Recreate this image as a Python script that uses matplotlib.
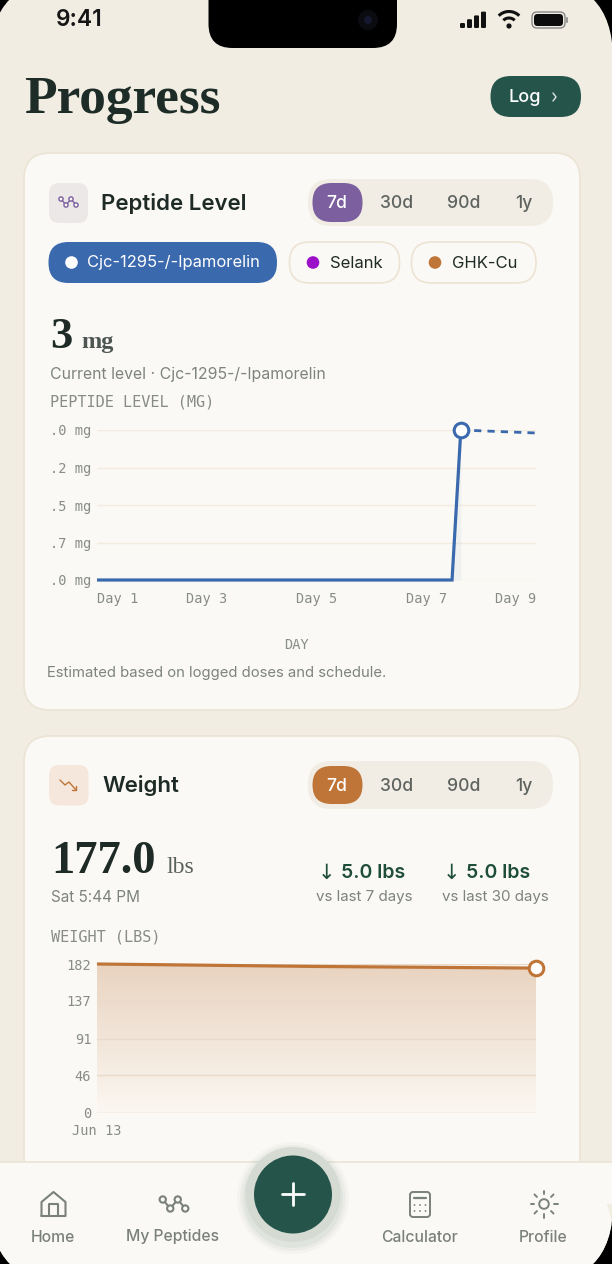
import numpy as np
import matplotlib
matplotlib.use('Agg')
import matplotlib.pyplot as plt
from matplotlib.patches import FancyBboxPatch, Circle

# chart data
level_days = [1, 3, 5, 7, 7.47, 7.63]
level_values = [0, 0, 0, 0, 0, 3.0]
projected_days = [7.63, 9]
projected_values = [3.0, 2.94]
level_ticks = [0, 0.75, 1.5, 2.25, 3.0]
level_tick_labels = ['.0 mg', '.7 mg', '.5 mg', '.2 mg', '.0 mg']
day_ticks = [1, 3, 5, 7, 9]
day_tick_labels = ['Day 1', 'Day 3', 'Day 5', 'Day 7', 'Day 9']

weight_days = [0, 3.5, 7]
weight_values = [182, 179, 177]
weight_ticks = [0, 46, 91, 137, 182]
date_ticks = [0]
date_tick_labels = ['Jun 13']

periods = ['7d', '30d', '90d', '1y']
period_x = [337, 397, 464, 524]
nav_labels = ['Home', 'My Peptides', 'Calculator', 'Profile']
nav_x = [53, 172, 419, 543]

BG = '#f1ede3'
CARD = '#fbf9f5'
EDGE = '#ebe4d5'
INK = '#1d2a26'
GREY = '#7d837f'
TICK = '#878c87'
GREEN = '#24544a'
BLUE = '#3a69ad'
ORANGE = '#bf7538'
PURPLE = '#7b5f9e'
SANS = 'Inter'
SERIF = 'Liberation Serif'
MONO = 'DejaVu Sans Mono'

W, H = 612, 1264
fig = plt.figure(figsize=(W / 100, H / 100), dpi=100, facecolor='black')
ui = fig.add_axes([0, 0, 1, 1])
ui.set_xlim(0, W)
ui.set_ylim(H, 0)
ui.axis('off')


def box(x0, y0, x1, y1, r, fc, ec='none', lw=1, z=1):
    p = FancyBboxPatch((x0, y0), x1 - x0, y1 - y0, boxstyle=f'round,pad=0,rounding_size={r}',
                       fc=fc, ec=ec, lw=lw, zorder=z)
    ui.add_patch(p)
    return p


def txt(x, y, s, size, color=INK, ha='left', va='center', family=SANS, weight='normal', z=5):
    if va == 'center':
        y += 1.5
    return ui.text(x, y, s, fontsize=size, color=color, ha=ha, va=va, family=family,
                   fontweight=weight, zorder=z)


def stroke(xs, ys, color, lw=1.2, z=6):
    ui.plot(xs, ys, color=color, lw=lw, solid_capstyle='round', solid_joinstyle='round', zorder=z)


def peptide_icon(cx, cy, s, color, lw):
    xs = [cx - 1.5 * s, cx - 0.5 * s, cx + 0.5 * s, cx + 1.5 * s]
    ys = [cy - 0.6 * s, cy + 0.6 * s, cy - 0.6 * s, cy + 0.6 * s]
    stroke(xs, ys, color, lw)
    for x, y in zip(xs, ys):
        ui.add_patch(Circle((x, y), 0.42 * s, fc=CARD, ec=color, lw=lw, zorder=7))


def period_switch(y0, y1, py0, py1, active):
    box(308, y0, 553, y1, 23, '#f1ede4', z=2)
    box(312.5, py0, 362.5, py1, 19, active, z=3)
    cy = (py0 + py1) / 2
    for i, (p, x) in enumerate(zip(periods, period_x)):
        txt(x, cy, p, 12.6, 'white' if i == 0 else '#5e635f', ha='center', weight='medium')


# screen and status bar
box(-10, -21, 613, 1284, 80, BG, z=0)
box(208.5, -30, 397, 48, 24, 'black', z=8)
ui.add_patch(Circle((368, 20), 10, fc='#0b0b12', ec='none', zorder=9))
ui.add_patch(Circle((368, 20), 4, fc='#15182e', ec='none', zorder=9))
txt(56, 19, '9:41', 16.4, '#161616', weight='semibold')
for i in range(4):
    box(460 + i * 7, 28 - (5 + i * 3.8), 465 + i * 7, 28, 1.2, '#111111', z=6)
ui.add_patch(Circle((509, 26), 2.6, fc='#111111', ec='none', zorder=6))
t = np.linspace(np.pi * 1.25, np.pi * 1.75, 20)
for r, lw in [(8, 2.2), (14.5, 2.2)]:
    ui.plot(509 + r * np.cos(t), 26 + r * np.sin(t), color='#111111', lw=lw, solid_capstyle='butt', zorder=6)
box(532, 12, 565, 28, 5, 'none', ec='#888888', lw=1, z=6)
box(534, 14, 563, 26, 3.5, '#0c0c0c', z=6)
box(566, 17, 568, 23, 1, '#999999', z=6)

# header
txt(24, 112.5, 'Progress', 38.4, '#1e2c27', va='baseline', family=SERIF, weight='bold')
box(490.5, 76, 581, 117, 20.5, GREEN, z=2)
txt(524.5, 96.5, 'Log', 13, 'white', ha='center', weight='medium')
stroke([553, 556, 553], [93, 97, 101], '#dfe7e2', 1)

# peptide card
box(24, 153, 580, 710, 26, CARD, ec=EDGE, lw=1.2)
box(49, 183, 88, 223, 10, '#ece8e8', z=2)
peptide_icon(68.5, 202, 5, PURPLE, 1)
txt(101, 202.5, 'Peptide Level', 16, weight='semibold')
period_switch(179, 226, 183, 222, PURPLE)

box(48.5, 242, 277, 283, 20, BLUE, z=2)
ui.add_patch(Circle((71.5, 262.5), 6.3, fc='white', ec='none', zorder=3))
txt(87, 261.5, 'Cjc-1295-/-Ipamorelin', 11.9, 'white')
box(289.5, 242, 399.5, 283, 20, CARD, ec='#ece3d3', lw=1.2, z=2)
ui.add_patch(Circle((313, 262.5), 6.3, fc='#9b0fc9', ec='none', zorder=3))
txt(330, 261.5, 'Selank', 12)
box(411.5, 242, 536, 283, 20, CARD, ec='#ece3d3', lw=1.2, z=2)
ui.add_patch(Circle((435, 262.5), 6.3, fc=ORANGE, ec='none', zorder=3))
txt(452, 261.5, 'GHK-Cu', 12)

txt(50, 348, '3', 32, va='baseline', family=SERIF, weight='bold')
txt(81, 348, 'mg', 17.5, '#4d5653', va='baseline', family=SERIF, weight='bold')
txt(50, 373, 'Current level · Cjc-1295-/-Ipamorelin', 11.4, GREY)
txt(50, 400.5, 'PEPTIDE LEVEL (MG)', 11, TICK, family=MONO)
txt(47, 672, 'Estimated based on logged doses and schedule.', 10.7, GREY)


def chart_axes(x0, y0, x1, y1):
    ax = fig.add_axes([x0 / W, 1 - y1 / H, (x1 - x0) / W, (y1 - y0) / H], facecolor='none', zorder=3)
    for s in ax.spines.values():
        s.set_visible(False)
    ax.tick_params(length=0, labelcolor=TICK, labelsize=9.8, pad=4.2)
    return ax


# peptide chart
ax1 = chart_axes(97, 430, 536, 580)
ax1.set_xlim(1, 9)
ax1.set_ylim(0, 3)
ax1.set_yticks(level_ticks, level_tick_labels, family=MONO)
ax1.set_xticks(day_ticks, day_tick_labels, family=MONO)
ax1.xaxis.get_majorticklabels()[0].set_ha('left')
ax1.xaxis.get_majorticklabels()[-1].set_ha('right')
ax1.tick_params(axis='x', pad=8.7)
ax1.grid(axis='y', color='#f1ecdf', lw=1)
ax1.set_axisbelow(True)
ax1.fill_between(level_days, level_values, color=BLUE, alpha=0.06, lw=0)
ax1.plot(level_days, level_values, color=BLUE, lw=2.3, clip_on=False, solid_joinstyle='miter',
         solid_capstyle='butt', zorder=4)
ax1.plot(projected_days, projected_values, color=BLUE, lw=2, ls=(0, (2.6, 2.2)), clip_on=False, zorder=4)
ax1.plot(level_days[-1], level_values[-1], 'o', ms=10.5, mfc='white', mec=BLUE, mew=2.2, clip_on=False, zorder=5)
ax1.set_xlabel('DAY', family=MONO, fontsize=9.8, color=TICK)
ax1.xaxis.set_label_coords((296.5 - 97) / 439, -0.387)

# weight card
box(24, 736, 580, 1300, 26, CARD, ec=EDGE, lw=1.2)
box(49, 765, 88.5, 805.5, 10, '#f6e7dc', z=2)
stroke([60, 65, 69, 76], [780, 785, 782, 790], ORANGE, 1)
stroke([71.5, 76, 76], [790, 790, 785.5], ORANGE, 1)
txt(102, 784.5, 'Weight', 16, weight='semibold')
period_switch(761, 809, 766, 804, ORANGE)

txt(51, 873, '177.0', 33.5, va='baseline', family=SERIF, weight='bold')
txt(166, 873, 'lbs', 17, '#59615d', va='baseline', family=SERIF)
txt(51, 895.5, 'Sat 5:44 PM', 11, GREY)
for ax_x, tx, sub_x, sub in [(318, 341, 316, 'vs last 7 days'), (443, 466, 442.5, 'vs last 30 days')]:
    txt(ax_x, 871, '↓', 15, '#1e4d3a', family=['DejaVu Sans'])
    txt(tx, 871, '5.0 lbs', 14, '#1e4d3a', weight='semibold')
    txt(sub_x, 895, sub, 10.9, GREY)
txt(51, 935.5, 'WEIGHT (LBS)', 11, TICK, family=MONO)

# weight chart
ax2 = chart_axes(97, 964, 536, 1113)
ax2.set_xlim(weight_days[0], weight_days[-1])
ax2.set_ylim(0, 182)
ax2.set_yticks(weight_ticks, [str(v) for v in weight_ticks], family=MONO)
ax2.set_xticks(date_ticks, date_tick_labels, family=MONO)
ax2.tick_params(axis='x', pad=7.7)
area = ax2.fill_between(weight_days, weight_values, color='none', lw=0)
ramp = np.linspace(0, 1, 200).reshape(-1, 1)
top, bottom = np.array(matplotlib.colors.to_rgb('#e9d3c0')), np.array(matplotlib.colors.to_rgb('#fbf7f1'))
grad = ax2.imshow((top + (bottom - top) * ramp)[:, None, :], extent=[0, 7, 0, 182], aspect='auto', zorder=1, origin='upper')
grad.set_clip_path(area.get_paths()[0], transform=ax2.transData)
ax2.set_xlim(weight_days[0], weight_days[-1])
ax2.set_ylim(0, 182)
ax2.grid(axis='y', color='#e9dac9', lw=1, zorder=2)
ax2.set_axisbelow(False)
ax2.plot(weight_days, weight_values, color=ORANGE, lw=2.3, clip_on=False, solid_capstyle='butt', zorder=4)
ax2.plot(weight_days[-1], weight_values[-1], 'o', ms=10.5, mfc='white', mec=ORANGE, mew=2.2, clip_on=False, zorder=5)

# bottom nav
nav = fig.add_axes([0, 0, 1, 1], facecolor='none', zorder=6)
nav.set_xlim(0, W)
nav.set_ylim(H, 0)
nav.axis('off')
ui = nav
box(-10, 1162, 613, 1284, 80, CARD, z=1)
ui.fill_between([-10, 613], 1162, 1204, color=CARD, lw=0, zorder=1)
ui.plot([-10, 613], [1162, 1162], color=EDGE, lw=1.2, zorder=1)
NAVC = '#7a817c'
for x, label in zip(nav_x, nav_labels):
    txt(x, 1235.5, label, 11.3, NAVC, ha='center', weight='medium')
stroke([41.5, 41.5, 53.5, 65.5, 65.5, 41.5], [1216, 1202, 1192, 1202, 1216, 1216], NAVC, 1.5)
stroke([49, 49, 58, 58], [1216, 1204, 1204, 1216], NAVC, 1.5)
peptide_icon(174, 1204, 7.5, NAVC, 1.5)
box(410, 1192, 430, 1217, 3, 'none', ec=NAVC, lw=1.4, z=6)
stroke([414, 426], [1198, 1198], NAVC, 1.6)
for y in [1205, 1211]:
    for x in [414.5, 420, 425.5]:
        ui.add_patch(Circle((x, y), 0.9, fc=NAVC, ec='none', zorder=6))
ui.add_patch(Circle((544, 1204), 4.8, fc='none', ec=NAVC, lw=1.4, zorder=6))
for a in np.radians(np.arange(0, 360, 45)):
    stroke([544 + 10 * np.cos(a), 544 + 13.5 * np.cos(a)], [1204 + 10 * np.sin(a), 1204 + 13.5 * np.sin(a)], NAVC, 1.4)
# soft shadow round the add button
for r, a in [(56, 0.03), (53, 0.04), (50, 0.05)]:
    ui.add_patch(Circle((293, 1198), r, fc='#24544a', ec='none', alpha=a, zorder=2))
ui.add_patch(Circle((293, 1194.5), 47.5, fc='#d5dad3', ec='none', zorder=3))
ui.add_patch(Circle((293, 1194.5), 39, fc=GREEN, ec='none', zorder=4))
stroke([281.5, 303.5], [1194, 1194], 'white', 2)
stroke([292.5, 292.5], [1183, 1205], 'white', 2)

fig.savefig('out.png', dpi=100, facecolor='black')
